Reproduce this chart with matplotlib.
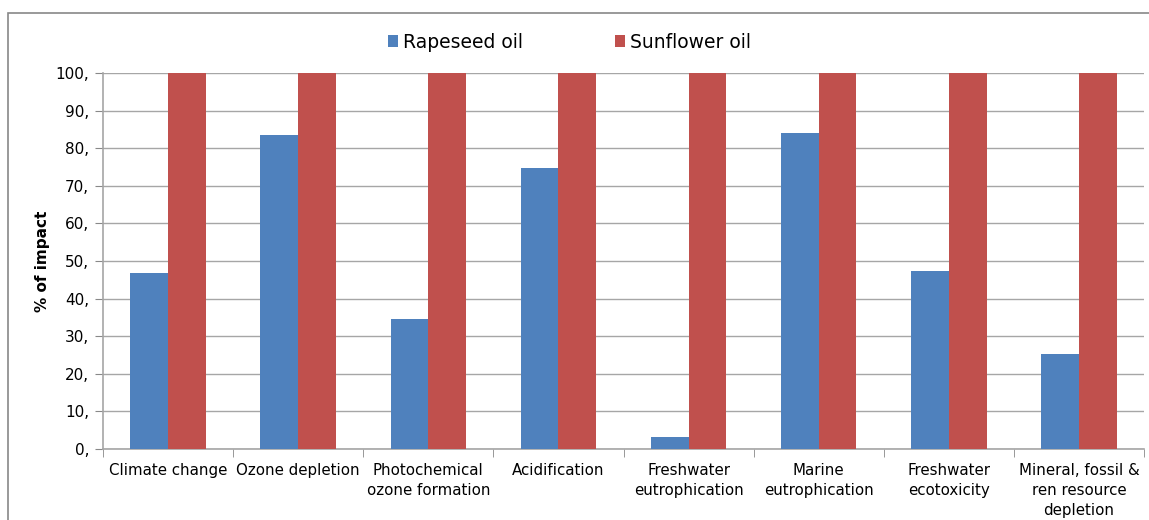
import matplotlib.pyplot as plt
import numpy as np
from matplotlib.patches import Rectangle

categories = ["Climate change", "Ozone depletion", "Photochemical\nozone formation",
              "Acidification", "Freshwater\neutrophication", "Marine\neutrophication",
              "Freshwater\necotoxicity", "Mineral, fossil &\nren resource\ndepletion"]
rapeseed = [46.8, 83.4, 34.6, 74.7, 3.2, 84.0, 47.3, 25.3]
sunflower = [100, 100, 100, 100, 100, 100, 100, 100]
yticks = [0, 10, 20, 30, 40, 50, 60, 70, 80, 90, 100]

fig = plt.figure(figsize=(11.49, 5.2), dpi=100)
ax = fig.add_axes([0.0896, 0.1365, 0.9061, 0.7231])

# outer chart border
fig.patches.append(Rectangle((8 / 1149, -0.1), 1.2, (520 - 13) / 520 + 0.1,
                             transform=fig.transFigure, fill=False,
                             edgecolor="#888888", linewidth=1.2))

x = np.arange(len(categories))
w = 0.29
ax.bar(x - w / 2, rapeseed, w, color="#4F81BD", label="Rapeseed oil", zorder=3)
ax.bar(x + w / 2, sunflower, w, color="#C0504D", label="Sunflower oil", zorder=3)

ax.set_xlim(-0.5, len(categories) - 0.5)
ax.set_ylim(0, 100)
ax.set_yticks(yticks)
ax.set_yticklabels([f"{v}," for v in yticks], fontsize=11)
ax.set_xticks(x)
ax.set_xticklabels(categories, fontsize=10.8, linespacing=1.4)
ax.set_xticks(np.arange(len(categories) + 1) - 0.5, minor=True)
ax.tick_params(axis="x", which="major", length=0, pad=10)
ax.tick_params(axis="x", which="minor", length=6, color="#888888")
ax.tick_params(axis="y", length=6, color="#888888", pad=4)

ax.grid(axis="y", color="#A6A6A6", linewidth=1, zorder=0)
for s in ["top", "right"]:
    ax.spines[s].set_visible(False)
for s in ["left", "bottom"]:
    ax.spines[s].set_color("#A6A6A6")
    ax.spines[s].set_linewidth(1.2)

ax.set_ylabel("% of impact", fontsize=11, fontweight="bold", labelpad=4)

h, l = ax.get_legend_handles_labels()
fig.legend(h, l, loc="center", bbox_to_anchor=(569.5 / 1149, 1 - 42 / 520), ncol=2,
           frameon=False, fontsize=13.5, handlelength=0.55, handleheight=0.55,
           handletextpad=0.25, columnspacing=4.9)

fig.savefig("out.png", dpi=100)
